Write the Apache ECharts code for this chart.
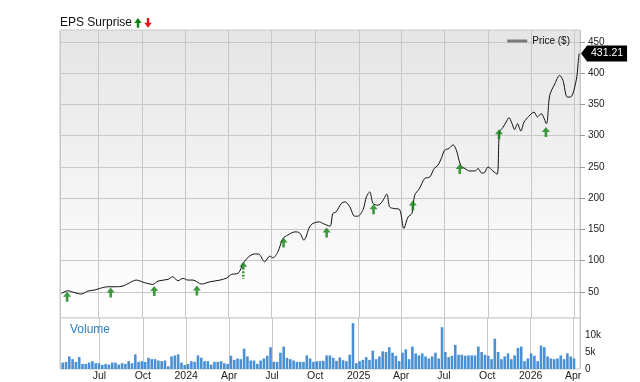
<!DOCTYPE html>
<html><head><meta charset="utf-8">
<script src="https://cdn.jsdelivr.net/npm/echarts@6/dist/echarts.min.js"></script>
<style>html,body{margin:0;padding:0;background:#fff}#c{width:640px;height:382px}</style>
</head><body><div id="c"></div>
<script>
// ---- data ----
const xMin = '2023-04-11';
const xMax = '2026-04-13';

const priceDates = [
 '2023-04-14','2023-04-28','2023-05-08','2023-05-26','2023-06-09','2023-06-23','2023-07-04','2023-07-21','2023-08-08','2023-08-22',
 '2023-09-05','2023-09-19','2023-10-07','2023-10-24','2023-11-04','2023-11-25','2023-12-05','2023-12-16','2023-12-27','2024-01-06',
 '2024-01-17','2024-02-04','2024-02-22','2024-03-14','2024-03-28','2024-04-07','2024-04-21','2024-05-02','2024-05-12','2024-05-26',
 '2024-06-04','2024-06-16','2024-06-27','2024-07-04','2024-07-14','2024-07-25','2024-08-04','2024-08-19','2024-08-29','2024-09-07',
 '2024-09-19','2024-09-26','2024-10-10','2024-10-17','2024-11-01','2024-11-07','2024-11-14','2024-11-25','2024-12-03','2024-12-13',
 '2024-12-23','2024-12-30','2025-01-10','2025-01-17','2025-01-24','2025-01-31','2025-02-10','2025-02-19','2025-03-01','2025-03-07',
 '2025-03-16','2025-03-28','2025-04-06','2025-04-15','2025-04-23','2025-04-29','2025-05-09','2025-05-20','2025-05-31','2025-06-09',
 '2025-06-17','2025-06-24','2025-07-01','2025-07-10','2025-07-19','2025-07-26','2025-08-04','2025-08-13','2025-08-23','2025-09-03',
 '2025-09-10','2025-09-17','2025-09-22','2025-10-01','2025-10-11','2025-10-20','2025-10-25','2025-11-01','2025-11-08','2025-11-14',
 '2025-11-20','2025-11-26','2025-12-02','2025-12-09','2025-12-16','2025-12-26','2026-01-06','2026-01-13','2026-01-21','2026-02-01',
 '2026-02-08','2026-02-19','2026-03-01','2026-03-08','2026-03-17','2026-03-24','2026-04-05','2026-04-09','2026-04-11'
];
const priceValues = [
 47.4,51.6,49.5,46.3,51.1,52.7,55.4,58,58,59.1,
 64.4,68.7,64.4,61.8,67.1,69.8,74,67.6,71.4,68.7,
 68.7,62.3,66,68.7,72,77.8,79.5,95.4,105,110.5,
 110.2,97.9,107,104.3,113.9,135.3,140.6,145.8,144.2,132.6,
 153.8,159.3,161.8,159.3,155,175.2,177.8,191.2,193.8,185.8,
 170.9,170.9,181.6,201.8,209.7,191.2,188.5,193.8,206.1,185.8,
 183.2,181.6,151.3,169.8,175.2,204.5,215.2,231.2,233.7,247.1,
 252.4,263.1,276.4,279.1,285,276.4,252.4,247.1,243.3,243.3,
 247.1,240.1,240.1,249.7,243.3,238,305.6,312.6,321.6,328.6,
 320,309.4,319,307.2,321.6,330.7,337.5,329.6,335,319,
 364.2,382.9,396.2,388.2,361.5,361.5,388.2,415,431.21
];
const lastPrice = 431.21;

const epsDates  = ['2023-04-26','2023-07-27','2023-10-27','2024-01-25','2024-05-02','2024-07-26',
                   '2024-10-25','2025-02-01','2025-04-25','2025-08-02','2025-10-24','2026-01-31'];
const epsLevels = [50,57,59.1,60.2,97.9,136.9,152.9,190,196,254.5,310,313.5];

const volumeStart = [2023, 3, 14]; // first weekly bar (Apr 14 2023)
const volumeK = [
 1.9,2.1,3.7,2.9,2.1,3.5,1.5,1.5,1.9,2.3,
 1.7,1.7,1.2,1.5,1.3,1.9,1.9,1.3,1.7,1.5,
 2.3,1.7,4.3,2.1,2.3,2.1,3.3,2.9,2.9,2.5,
 2.3,2.5,0.8,3.7,4.0,4.3,1.9,1.2,1.5,2.3,
 2.1,4.0,3.3,2.3,2.3,1.3,2.1,2.1,2.3,1.7,
 1.5,3.9,2.7,3.1,2.9,6.0,3.7,2.5,2.5,1.5,
 2.5,3.1,3.9,6.4,2.1,2.1,4.8,6.6,3.3,2.9,
 2.5,2.1,2.1,2.1,4.0,3.1,2.1,2.3,
 2.3,2.4,4.0,4.0,3.3,2.4,3.4,2.6,2.3,4.2,
 13.5,1.7,2.3,2.7,3.5,2.7,5.4,2.9,3.7,5.2,
 5.0,6.4,4.8,3.9,2.3,4.8,5.8,2.9,6.6,4.6,
 4.0,4.6,3.7,3.1,3.7,4.8,3.1,12.3,5.0,3.5,
 3.9,7.1,4.2,4.2,3.9,4.0,4.0,4.0,6.6,5.0,
 4.2,3.9,2.9,8.9,5.0,2.9,3.7,4.6,2.9,4.0,
 6.2,6.6,2.3,3.1,4.6,3.9,2.3,6.9,6.4,3.7,
 3.1,2.9,3.1,4.0,2.9,4.6,3.7,3.1
];
const volumeTicks = [0, 5, 10, 15];

// ---- build ----
const FONT = '"Liberation Sans", Arial, Helvetica, sans-serif';
const GRID_LINE = '#c8c8c8';
const DAY = 86400000;

const volumeDates = volumeK.map((_, i) => new Date(volumeStart[0], volumeStart[1], volumeStart[2] + 7 * i).getTime());

const arrowPath = 'path://M4,0 L8,5 L5.3,5 L5.3,10 L2.7,10 L2.7,5 L0,5 Z';
const arrowDashPath = 'path://M4,0 L8,5 L5.3,5 L5.3,8 L2.7,8 L2.7,5 L0,5 Z M2.7,9.5 L5.3,9.5 L5.3,11.5 L2.7,11.5 Z M2.7,13 L5.3,13 L5.3,15 L2.7,15 Z M2.7,16.3 L5.3,16.3 L5.3,17 L2.7,17 Z';
const longTailIndex = 4;

const epsData = epsDates.map((d, i) => {
  const long = i === longTailIndex;
  return {
    value: [d, epsLevels[i]],
    symbol: long ? arrowDashPath : arrowPath,
    symbolSize: long ? [8, 17] : [8, 10],
    symbolOffset: long ? [0, 8.5] : [0, 5]
  };
});

const timeAxisBase = {
  type: 'time', min: xMin, max: xMax, splitNumber: 12,
  minInterval: 91 * DAY, maxInterval: 91 * DAY
};

const chart = echarts.init(document.getElementById('c'), null, {renderer: 'canvas'});
chart.setOption({
  animation: false,
  textStyle: {fontFamily: FONT},
  title: [
    {text: 'EPS Surprise', left: 60, top: 16.5, padding: 0,
     textStyle: {fontSize: 12, fontWeight: 'normal', color: '#111', fontFamily: FONT}},
    {text: 'Volume', left: 70, top: 323.5, padding: 0,
     textStyle: {fontSize: 12, fontWeight: 'normal', color: '#3080c0', fontFamily: FONT}}
  ],
  graphic: [
    {type: 'polygon', silent: true, shape: {points: [[138,18],[141.7,23],[139.2,23],[139.2,27.7],[136.8,27.7],[136.8,23],[134.3,23]]}, style: {fill: '#0f7f12'}},
    {type: 'polygon', silent: true, shape: {points: [[148,27.7],[151.7,22.7],[149.2,22.7],[149.2,18],[146.8,18],[146.8,22.7],[144.3,22.7]]}, style: {fill: '#e8131b'}}
  ],
  legend: {
    data: [{name: 'Price ($)', icon: 'rect', itemStyle: {color: '#7a7a7a'}}],
    right: 70, top: 36, padding: 0, itemWidth: 20, itemHeight: 3, itemGap: 6,
    textStyle: {fontSize: 10, color: '#111', fontFamily: FONT}
  },
  grid: [
    {left: 60, right: 60, top: 30, height: 288, show: true,
     backgroundColor: {type: 'linear', x: 0, y: 0, x2: 0, y2: 1,
       colorStops: [{offset: 0, color: '#e5e5e5'}, {offset: 1, color: '#ffffff'}]},
     borderColor: GRID_LINE, borderWidth: 1},
    {left: 60, right: 60, top: 41.75, height: 250},
    {left: 60, right: 60, top: 318, height: 52, show: true, backgroundColor: '#fff',
     borderColor: GRID_LINE, borderWidth: 1}
  ],
  xAxis: [
    Object.assign({}, timeAxisBase, {gridIndex: 0,
      axisLine: {show: false}, axisTick: {show: false}, axisLabel: {show: false},
      splitLine: {show: true, lineStyle: {color: GRID_LINE, width: 1}}}),
    Object.assign({}, timeAxisBase, {gridIndex: 1, show: false}),
    Object.assign({}, timeAxisBase, {gridIndex: 2,
      axisLine: {show: false}, axisTick: {show: false},
      axisLabel: {show: true, margin: 2, fontSize: 10.5, color: '#222', fontFamily: FONT,
        showMinLabel: false, showMaxLabel: false, hideOverlap: false,
        formatter: {year: '{yyyy}', month: '{MMM}', day: '', hour: '', minute: '', second: '', millisecond: ''},
        rich: {primary: {fontWeight: 'normal'}}},
      splitLine: {show: true, lineStyle: {color: GRID_LINE, width: 1}}})
  ],
  yAxis: [
    {gridIndex: 0, type: 'value', show: false, min: 0, max: 1},
    {gridIndex: 1, type: 'value', position: 'right', min: 50, max: 450, interval: 50,
     axisLine: {show: false},
     axisTick: {show: true, length: 5, lineStyle: {color: '#999'}},
     axisLabel: {margin: 8, fontSize: 10, color: '#222', fontFamily: FONT},
     splitLine: {show: true, lineStyle: {color: GRID_LINE, width: 1}}},
    {gridIndex: 2, type: 'value', position: 'right', min: volumeTicks[0], max: volumeTicks[volumeTicks.length - 1],
     interval: volumeTicks[1] - volumeTicks[0],
     axisLine: {show: false}, axisTick: {show: false}, splitLine: {show: false},
     axisLabel: {margin: 5, fontSize: 10, color: '#222', fontFamily: FONT, showMaxLabel: false,
       formatter: v => (v === 0 ? '0' : v + 'k')}}
  ],
  series: [
    {name: 'Price ($)', type: 'line', xAxisIndex: 1, yAxisIndex: 1,
     data: priceDates.map((d, i) => [d, priceValues[i]]),
     showSymbol: false, symbol: 'none', smooth: 0.3, clip: false,
     lineStyle: {color: '#111', width: 1}, itemStyle: {color: '#111'}, z: 3,
     markPoint: {
       silent: true, animation: false,
       symbol: 'path://M0,8 L6,0 L46,0 L46,16 L6,16 Z', symbolSize: [46, 16], symbolOffset: [25, 0],
       itemStyle: {color: '#000'},
       label: {show: true, color: '#fff', fontSize: 10.5, fontFamily: FONT, offset: [3, 0],
               formatter: () => lastPrice.toFixed(2)},
       data: [{coord: [priceDates[priceDates.length - 1], lastPrice], value: lastPrice}]
     }},
    {name: 'EPS', type: 'scatter', xAxisIndex: 1, yAxisIndex: 1, data: epsData,
     itemStyle: {color: '#0f7f12'}, silent: true, z: 4},
    {name: 'Volume', type: 'bar', xAxisIndex: 2, yAxisIndex: 2,
     data: volumeDates.map((d, i) => [d, volumeK[i]]),
     barWidth: 2.6, itemStyle: {color: '#4a90d2'}, silent: true}
  ]
});
</script>
</body></html>
